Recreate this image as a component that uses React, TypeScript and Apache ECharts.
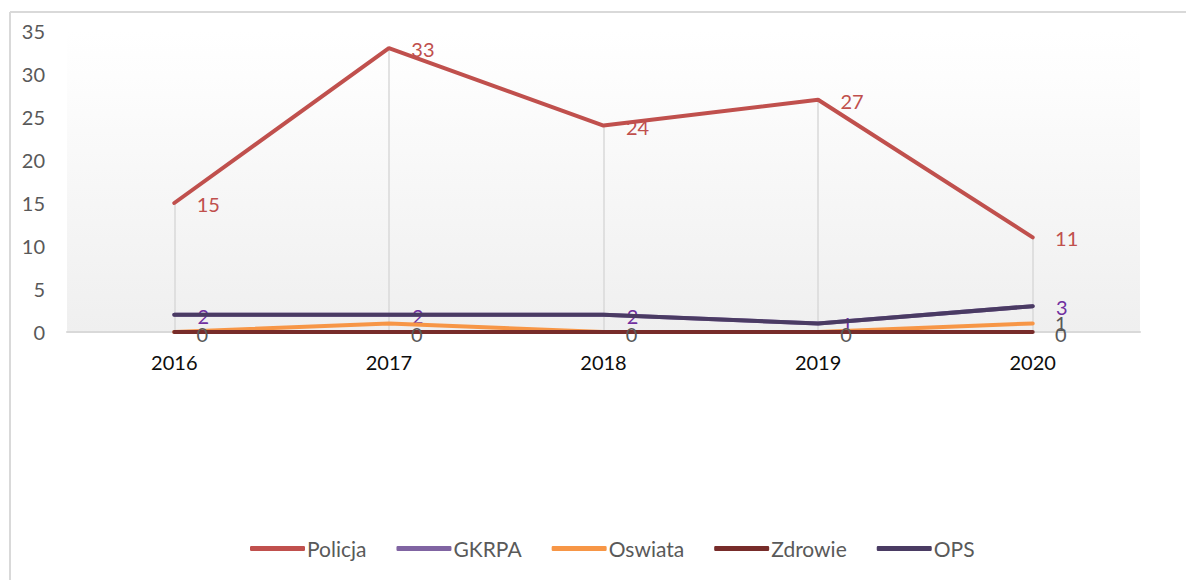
import React, { useEffect, useRef } from "react";
import * as echarts from "echarts";

const categories = ["2016", "2017", "2018", "2019", "2020"];
const policja = [15, 33, 24, 27, 11];
const gkrpa = [2, 2, 2, 1, 3];
const oswiata = [0, 1, 0, 0, 1];
const zdrowie = [0, 0, 0, 0, 0];
const ops = [2, 2, 2, 1, 3];
const oswiataLabelShown = [false, false, false, false, true];

const FONT = "Lato, 'Open Sans', sans-serif";

export default function App() {
  const ref = useRef<HTMLDivElement>(null);
  useEffect(() => {
    if (!ref.current) return;
    const chart = echarts.init(ref.current, undefined, { renderer: "svg" });
    const baseLine = (name: string, data: any[], color: string, z: number) => ({
      name,
      type: "line",
      data,
      symbol: "circle",
      symbolSize: 1,
      z,
      lineStyle: { color, width: 4, cap: "round" },
      itemStyle: { color },
      emphasis: { disabled: true },
    });
    chart.setOption({
      animation: false,
      textStyle: { fontFamily: FONT },
      grid: {
        left: 67,
        right: 46,
        top: 31,
        bottom: 248,
        show: true,
        borderWidth: 0,
        backgroundColor: {
          type: "linear",
          x: 0,
          y: 0,
          x2: 0,
          y2: 1,
          colorStops: [
            { offset: 0, color: "#ffffff" },
            { offset: 0.15, color: "#fdfdfd" },
            { offset: 1, color: "#efefef" },
          ],
        },
      },
      legend: {
        left: 245,
        top: 533,
        itemWidth: 55,
        itemHeight: 5,
        itemGap: 30,
        icon: "roundRect",
        textStyle: { color: "#595959", fontSize: 21, fontFamily: FONT, padding: [0, 0, 0, -3] },
        data: ["Policja", "GKRPA", "Oswiata", "Zdrowie", "OPS"],
      },
      xAxis: {
        type: "category",
        data: categories,
        boundaryGap: true,
        axisLine: { show: true, lineStyle: { color: "#d9d9d9", width: 2 } },
        axisTick: { show: false },
        axisLabel: { color: "#0d0d0d", fontSize: 20, margin: 20, fontFamily: FONT },
        splitLine: { show: false },
      },
      yAxis: {
        type: "value",
        min: 0,
        max: 35,
        interval: 5,
        axisLine: { show: false },
        axisTick: { show: false },
        splitLine: { show: false },
        axisLabel: { color: "#595959", fontSize: 20, margin: 22, fontFamily: FONT },
      },
      graphic: [
        { type: "line", shape: { x1: 10, y1: 12, x2: 1186, y2: 12 }, style: { stroke: "#d9d9d9", lineWidth: 2 } },
        { type: "line", shape: { x1: 10, y1: 12, x2: 10, y2: 580 }, style: { stroke: "#d9d9d9", lineWidth: 2 } },
      ],
      series: [
        {
          ...baseLine("Policja", policja, "#C0504D", 5),
          label: { show: true, color: "#C0504D", fontSize: 20, offset: [34, 1], position: "inside", fontFamily: FONT },
          markLine: {
            silent: true,
            symbol: "none",
            label: { show: false },
            lineStyle: { color: "#d9d9d9", width: 1.5, type: "solid" },
            z: 1,
            data: policja.map((v, i) => [
              { coord: [i, v] },
              { coord: [i, 0] },
            ]),
          },
        },
        {
          ...baseLine("Zdrowie", zdrowie, "#772C2A", 6),
          label: { show: true, color: "#595959", fontSize: 20, position: "inside", offset: [28, 2], fontFamily: FONT },
        },
        {
          ...baseLine(
            "Oswiata",
            oswiata.map((v, i) => ({ value: v, label: { show: oswiataLabelShown[i] } })),
            "#F79646",
            4
          ),
          label: { show: false, color: "#595959", fontSize: 20, position: "inside", offset: [28, 0], fontFamily: FONT },
        },
        {
          ...baseLine("GKRPA", gkrpa, "#8064A2", 3),
          label: { show: true, color: "#7030A0", fontSize: 20, position: "inside", offset: [29, 1], fontFamily: FONT },
        },
        {
          ...baseLine("OPS", ops, "#4A3B63", 7),
          label: { show: false },
        },
      ],
    });
    return () => chart.dispose();
  }, []);
  return (
    <div
      ref={ref}
      style={{ position: "absolute", left: 0, top: 0, width: 1186, height: 580, background: "#fff" }}
    />
  );
}
